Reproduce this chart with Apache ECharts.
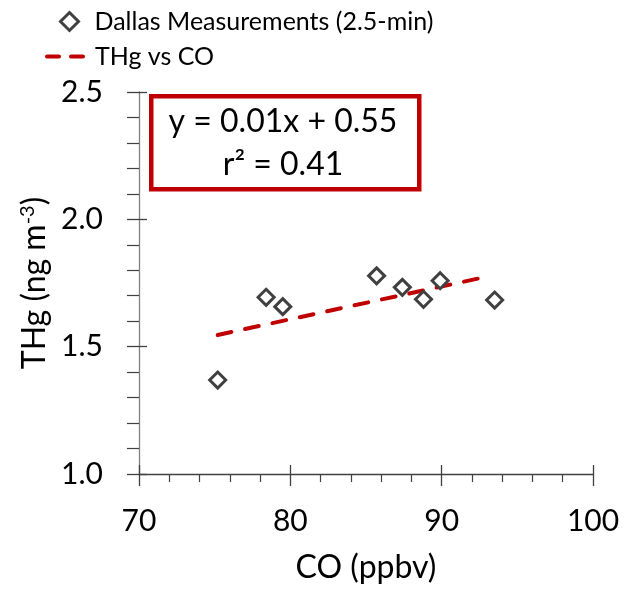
<!DOCTYPE html>
<html>
<head>
<meta charset="utf-8">
<script src="https://cdn.jsdelivr.net/npm/echarts@6/dist/echarts.min.js"></script>
<style>html,body{margin:0;padding:0;background:#fff}#c{width:639px;height:589px}</style>
</head>
<body>
<div id="c"></div>
<script>
// Data
var coValues  = [75.2, 78.4, 79.5, 85.7, 87.4, 88.8, 89.9, 93.5];
var thgValues = [1.369, 1.694, 1.657, 1.778, 1.733, 1.686, 1.759, 1.683];
var trendX = [75.2, 93.0];
var trendY = [1.546, 1.775];
var xTicks = [70, 80, 90, 100];
var yTicks = [1.0, 1.5, 2.0, 2.5];
var seriesNames = ['Dallas Measurements (2.5-min)', 'THg vs CO'];
var eqLines = ['y = 0.01x + 0.55', 'r² = 0.41'];

var FONT = 'Lato';
var scatterData = coValues.map(function (x, i) { return [x, thgValues[i]]; });
var trendData = trendX.map(function (x, i) { return [x, trendY[i]]; });

var chart = echarts.init(document.getElementById('c'), null, {renderer: 'canvas'});
var grid = {left: 139, right: 46, top: 92, bottom: 115};
var baseX = {
  type: 'value', min: xTicks[0], max: xTicks[xTicks.length - 1], interval: 10,
  splitLine: {show: false}
};
var baseY = {
  type: 'value', min: yTicks[0], max: yTicks[yTicks.length - 1], interval: 0.5,
  splitLine: {show: false}
};
chart.setOption({
  animation: false,
  backgroundColor: '#fff',
  textStyle: {fontFamily: FONT},
  grid: grid,
  legend: [{
    data: [{name: seriesNames[0]}],
    left: 59, top: 9, padding: 0,
    itemWidth: 18, itemHeight: 18,
    itemStyle: {borderWidth: 3, borderColor: '#404040', color: '#fff'},
    textStyle: {fontFamily: FONT, fontSize: 25, color: '#000', padding: [0, 0, 0, 11]}
  }, {
    data: [{name: seriesNames[1]}],
    left: 45, top: 44, padding: 0,
    itemWidth: 36, itemHeight: 18,
    itemStyle: {color: 'rgba(0,0,0,0)', borderWidth: 0, opacity: 0},
    lineStyle: {color: '#c00000', width: 4, type: [12, 12], cap: 'round'},
    textStyle: {fontFamily: FONT, fontSize: 25, color: '#000', padding: [0, 0, 0, 7]}
  }],
  xAxis: [Object.assign({}, baseX, {
    name: 'CO (ppbv)', nameLocation: 'middle', nameGap: 78,
    nameTextStyle: {fontFamily: FONT, fontSize: 32, color: '#000'},
    axisLine: {lineStyle: {color: '#404040', width: 1.3}},
    axisTick: {show: true, length: 12, lineStyle: {color: '#404040', width: 1.3}},
    minorTick: {show: true, splitNumber: 5, length: 8, lineStyle: {color: '#404040', width: 1.2}},
    axisLabel: {fontFamily: FONT, fontSize: 30, color: '#000', margin: 32,
      formatter: function (v) { return xTicks.indexOf(v) >= 0 ? String(v) : ''; }}
  }), Object.assign({}, baseX, {
    position: 'bottom', axisLine: {show: false}, axisLabel: {show: false},
    axisTick: {show: true, inside: true, length: 9, lineStyle: {color: '#404040', width: 1.3}}
  })],
  yAxis: [Object.assign({}, baseY, {
    name: 'THg (ng m{sup|-3})', nameLocation: 'middle', nameGap: 84,
    nameTextStyle: {fontFamily: FONT, fontSize: 32, color: '#000',
      rich: {sup: {fontFamily: FONT, fontSize: 20, color: '#000', verticalAlign: 'top', padding: [0, 0, 14, 0]}}},
    axisLine: {lineStyle: {color: '#808080', width: 1.3}},
    axisTick: {show: true, length: 12, lineStyle: {color: '#404040', width: 1.3}},
    minorTick: {show: true, splitNumber: 5, length: 12, lineStyle: {color: '#404040', width: 1.2}},
    axisLabel: {fontFamily: FONT, fontSize: 30, color: '#000', margin: 36,
      formatter: function (v) { return v.toFixed(1); }}
  }), Object.assign({}, baseY, {
    position: 'left', axisLine: {show: false}, axisLabel: {show: false},
    axisTick: {show: true, inside: true, length: 8, lineStyle: {color: '#404040', width: 1.3}}
  })],
  series: [{
    name: seriesNames[0], type: 'scatter', data: scatterData,
    symbol: 'diamond', symbolSize: 16,
    itemStyle: {color: '#fff', borderColor: '#404040', borderWidth: 3, opacity: 1},
    z: 3
  }, {
    name: seriesNames[1], type: 'line', data: trendData,
    symbol: 'none', showSymbol: false,
    lineStyle: {color: '#c00000', width: 4, type: [14, 14], cap: 'round'},
    itemStyle: {color: '#c00000'},
    z: 2
  }],
  graphic: [{
    type: 'rect', left: 149, top: 94, z: 10,
    shape: {width: 268, height: 93},
    style: {fill: '#fff', stroke: '#c00000', lineWidth: 4.5}
  }, {
    type: 'text', z: 11, x: 283, y: 122,
    style: {text: eqLines[0], fontFamily: FONT, fontSize: 32, fill: '#000', align: 'center', verticalAlign: 'middle'}
  }, {
    type: 'text', z: 11, x: 283, y: 165,
    style: {text: eqLines[1], fontFamily: FONT, fontSize: 32, fill: '#000', align: 'center', verticalAlign: 'middle'}
  }]
});
</script>
</body>
</html>
